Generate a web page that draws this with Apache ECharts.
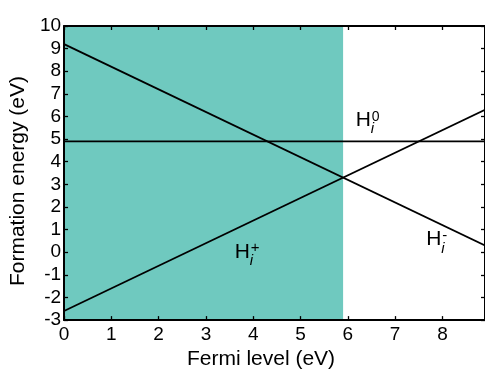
<!DOCTYPE html>
<html>
<head>
<meta charset="utf-8">
<script src="https://cdn.jsdelivr.net/npm/echarts@6/dist/echarts.min.js"></script>
<style>
html,body{margin:0;padding:0;background:#fff;}
#chart{width:485px;height:375px;}
</style>
</head>
<body>
<div id="chart"></div>
<script>
// ---- data ----
var fermiLevels = [0, 8.9];          // x extent of the lines (eV)
var hNeutral = [4.9, 4.9];           // H_i^0
var hPlus = [-2.6, 6.3];             // H_i^+
var hMinus = [9.2, 0.3];             // H_i^-
var shadeRange = [0, 5.9];           // shaded Fermi-level range
var xTicks = [0, 1, 2, 3, 4, 5, 6, 7, 8];
var yTicks = [-3, -2, -1, 0, 1, 2, 3, 4, 5, 6, 7, 8, 9, 10];
var labelNames = ['0', '+', '-'];
var labelAnchors = [[6.17, 5.37], [3.61, -0.46], [7.66, 0.1]];

var FONT = '"Liberation Sans", Arial, Helvetica, sans-serif';
var TEAL = '#6FC9BF';

function pairs(xs, ys) { return xs.map(function (x, i) { return [x, ys[i]]; }); }

var chart = echarts.init(document.getElementById('chart'), null, {renderer: 'canvas'});

function axisCommon(extra) {
  var base = {
    type: 'value',
    z: 5,
    splitLine: {show: false},
    axisLine: {show: true, onZero: false, lineStyle: {color: '#000', width: 2}},
    axisTick: {show: true, inside: true, length: 4, lineStyle: {color: '#000', width: 1.3}},
    axisLabel: {show: false}
  };
  for (var k in extra) base[k] = extra[k];
  return base;
}

var xMin = xTicks[0], xMax = fermiLevels[1];
var yMin = yTicks[0], yMax = yTicks[yTicks.length - 1];

var lineStyle = {color: '#000', width: 1.8};

chart.setOption({
  animation: false,
  backgroundColor: '#fff',
  grid: {left: 63, top: 26, width: 424, height: 301, containLabel: false},
  xAxis: [
    axisCommon({
      position: 'bottom', min: xMin, max: xMax, interval: 1,
      axisLabel: {show: true, showMaxLabel: false, color: '#000', fontSize: 19, fontFamily: FONT, margin: 5},
      name: 'Fermi level (eV)', nameLocation: 'middle', nameGap: 24,
      nameTextStyle: {color: '#000', fontSize: 21, fontFamily: FONT, padding: [0, 27, 0, 0]}
    }),
    axisCommon({position: 'top', min: xMin, max: xMax, interval: 1})
  ],
  yAxis: [
    axisCommon({
      position: 'left', min: yMin, max: yMax, interval: 1,
      axisLabel: {show: true, color: '#000', fontSize: 19, fontFamily: FONT, margin: 3},
      name: 'Formation energy (eV)', nameLocation: 'middle', nameGap: 32,
      nameTextStyle: {color: '#000', fontSize: 21, fontFamily: FONT, padding: [0, 16, 0, 0]}
    }),
    axisCommon({position: 'right', min: yMin, max: yMax, interval: 1})
  ],
  series: [
    {
      type: 'line', name: 'H0', xAxisIndex: 0, yAxisIndex: 0,
      data: pairs(fermiLevels, hNeutral), showSymbol: false, symbol: 'none',
      lineStyle: lineStyle, z: 3,
      markArea: {
        silent: true,
        itemStyle: {color: TEAL, opacity: 1},
        data: [[{xAxis: shadeRange[0], yAxis: yMin}, {xAxis: shadeRange[1], yAxis: yMax}]]
      }
    },
    {
      type: 'line', name: 'H+', data: pairs(fermiLevels, hPlus), showSymbol: false, symbol: 'none',
      lineStyle: lineStyle, z: 3
    },
    {
      type: 'line', name: 'H-', data: pairs(fermiLevels, hMinus), showSymbol: false, symbol: 'none',
      lineStyle: lineStyle, z: 3
    }
  ]
});

// species labels H_i^q, placed at data-coordinate anchors
var graphics = [];
labelAnchors.forEach(function (a, i) {
  var p = chart.convertToPixel({gridIndex: 0}, a);
  graphics.push({type: 'text', x: p[0], y: p[1], z: 20,
    style: {text: 'H', fontSize: 21, fontFamily: FONT, fill: '#000', textAlign: 'left', textVerticalAlign: 'bottom'}});
  graphics.push({type: 'text', x: p[0] + 16, y: p[1] - 7, z: 20,
    style: {text: labelNames[i], fontSize: labelNames[i] === '0' ? 14 : 15, fontFamily: FONT, fill: '#000', textAlign: 'left', textVerticalAlign: 'bottom'}});
  graphics.push({type: 'text', x: p[0] + 15, y: p[1] + 6, z: 20,
    style: {text: 'i', fontSize: 15, fontStyle: 'italic', fontFamily: FONT, fill: '#000', textAlign: 'left', textVerticalAlign: 'bottom'}});
});
chart.setOption({graphic: graphics});
</script>
</body>
</html>
